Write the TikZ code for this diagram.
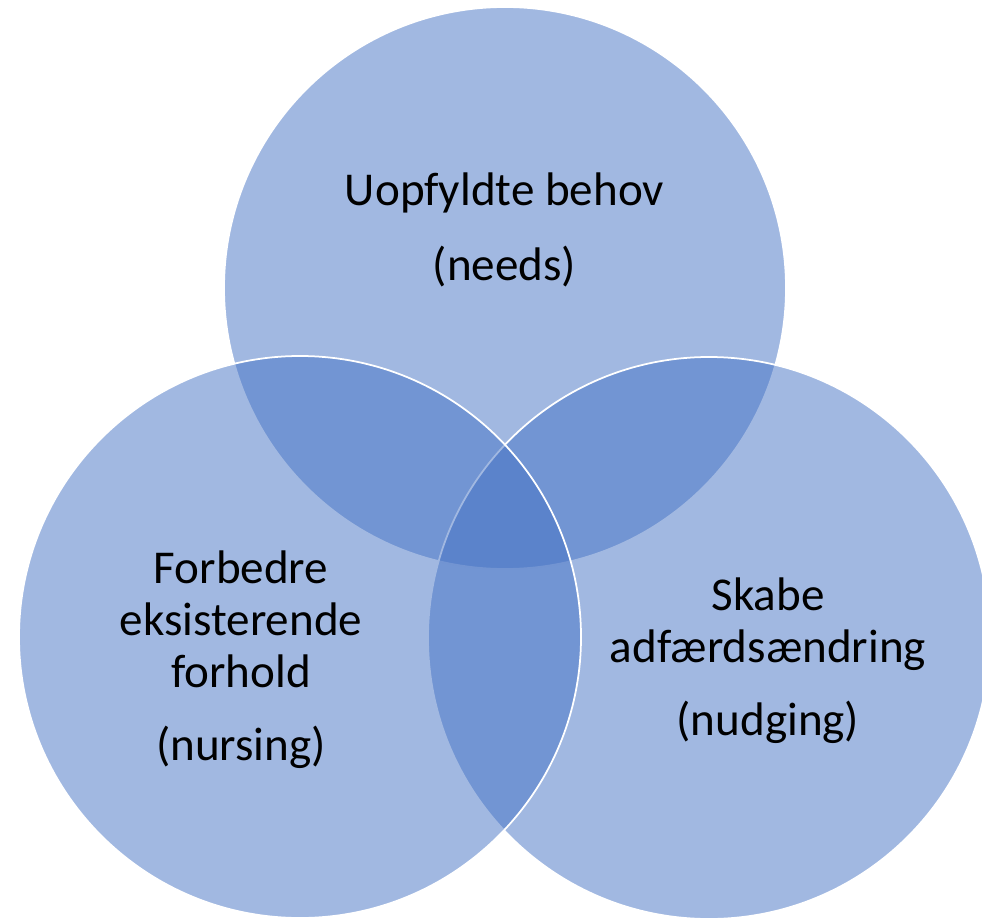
\documentclass[tikz,border=0pt]{standalone}
\usepackage{fontspec}
\setmainfont{Carlito}
\usepackage{tikz}
\usetikzlibrary{positioning}
\usepackage{xcolor}
\definecolor{vennblue}{HTML}{4472C4}

\begin{document}
\begin{tikzpicture}[
			font=\fontsize{26.8}{29.6}\selectfont,
			venn/.style={circle, draw=white, line width=1pt, fill=vennblue, fill opacity=0.5, inner sep=0pt, minimum size=11.24cm},
			label/.style={align=center, text=black}
			]
			\useasboundingbox (0,0) rectangle (19.64,-18.40);
			
			% circles: top, right, left
			\node[venn] (needs) at (10.10,-5.76) {};
			\node[venn] (nudging) at (14.18,-12.76) {};
			\node[venn] (nursing) at (6.00,-12.74) {};
			
			\node[label] (needstxt) at (10.09,-4.60) {Uopfyldte behov\\[0.46cm] (needs)};
			\node[label] (nursingtxt) at (4.82,-13.20) {Forbedre\\ eksisterende\\ forhold\\[0.42cm] (nursing)};
			\node[label] (nudgingtxt) at (15.36,-13.22) {Skabe\\ adfærdsændring\\[0.42cm] (nudging)};
			
		\end{tikzpicture}
\end{document}
